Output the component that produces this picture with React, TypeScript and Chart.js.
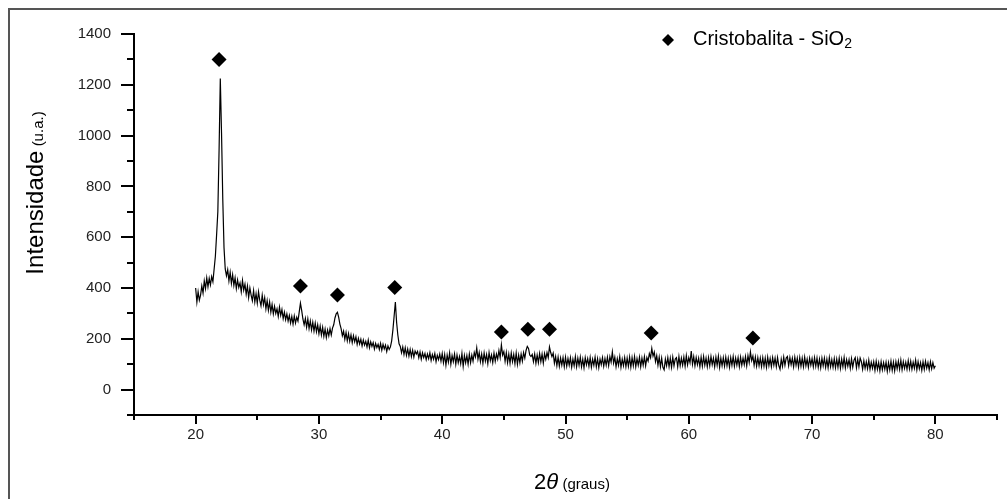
import React, { useEffect, useRef } from 'react';
import { Chart, registerables } from 'chart.js';

Chart.register(...registerables);

const FONT = '"Liberation Sans", Arial, Helvetica, sans-serif';

// 2θ sampling grid: 20.0° .. 80.0° every 0.1°
const thetaStart = 20;
const thetaStep = 0.1;

// Intensity (u.a.), one row per degree (x.0 .. x.9)
const intensity20s = [
  400, 345, 385, 352, 372, 408, 380, 428, 398, 440,
  405, 438, 412, 445, 425, 475, 525, 610, 700, 940,
  1225, 1010, 750, 560, 475, 448, 472, 428, 462, 418,
  452, 410, 440, 398, 432, 402, 420, 385, 430, 392,
  415, 375, 408, 362, 400, 372, 350, 390, 345, 378,
  340, 385, 352, 330, 372, 335, 362, 318, 350, 312,
  345, 305, 335, 298, 328, 300, 318, 288, 325, 292,
  315, 280, 305, 275, 298, 270, 292, 262, 288, 258,
  290, 262, 285, 270, 305, 340, 312, 278, 255, 280,
  245, 278, 240, 270, 235, 265, 230, 262, 228, 255,
];
const intensity30s = [
  220, 250, 215, 245, 210, 238, 205, 235, 212, 240,
  215, 242, 255, 282, 298, 304, 285, 258, 240, 212,
  230, 198, 225, 192, 220, 190, 215, 185, 212, 188,
  208, 178, 202, 180, 198, 172, 195, 175, 190, 168,
  195, 165, 188, 170, 185, 160, 182, 165, 178, 158,
  182, 155, 178, 160, 175, 150, 172, 158, 168, 192,
  235, 290, 345, 265, 215, 180, 170, 145, 168, 138,
  165, 135, 160, 132, 158, 130, 155, 128, 152, 140,
  150, 125, 148, 120, 145, 126, 142, 118, 140, 122,
  145, 115, 138, 120, 142, 110, 135, 118, 140, 112,
];
const intensity40s = [
  142, 106, 138, 96, 136, 108, 144, 100, 134, 110,
  140, 100, 136, 106, 130, 102, 142, 92, 134, 106,
  134, 100, 140, 106, 136, 112, 146, 128, 164, 120,
  146, 110, 140, 104, 144, 112, 138, 102, 146, 114,
  136, 106, 144, 112, 140, 120, 154, 126, 176, 136,
  150, 112, 146, 106, 140, 104, 144, 110, 138, 102,
  144, 100, 136, 106, 140, 112, 146, 124, 154, 170,
  162, 136, 130, 138, 110, 140, 104, 136, 106, 142,
  110, 140, 104, 142, 120, 146, 126, 168, 146, 130,
  144, 104, 130, 94, 128, 92, 124, 96, 126, 90,
];
const intensity50s = [
  128, 92, 122, 96, 126, 88, 120, 94, 130, 90,
  124, 95, 128, 90, 120, 86, 126, 98, 122, 92,
  126, 88, 120, 96, 128, 90, 122, 86, 120, 98,
  126, 92, 122, 96, 128, 94, 130, 108, 148, 104,
  128, 90, 122, 96, 130, 88, 120, 94, 126, 90,
  124, 92, 128, 88, 126, 94, 130, 90, 122, 96,
  128, 90, 124, 96, 130, 94, 126, 112, 142, 126,
  162, 132, 148, 110, 134, 96, 128, 90, 124, 88,
  78, 120, 94, 126, 90, 124, 88, 128, 94, 120,
  126, 90, 130, 94, 124, 96, 128, 92, 134, 98,
];
const intensity60s = [
  126, 106, 152, 100, 130, 94, 126, 98, 124, 90,
  128, 92, 130, 96, 124, 90, 126, 94, 130, 98,
  124, 90, 128, 96, 132, 88, 124, 94, 126, 92,
  128, 94, 124, 88, 126, 96, 130, 92, 124, 96,
  126, 90, 128, 96, 124, 98, 130, 94, 134, 106,
  148, 114, 132, 96, 128, 92, 126, 94, 124, 90,
  126, 92, 124, 88, 128, 94, 122, 90, 126, 96,
  124, 90, 126, 94, 80, 120, 92, 128, 96, 124,
  130, 94, 126, 98, 124, 90, 128, 96, 124, 88,
  126, 92, 124, 90, 128, 94, 120, 88, 124, 96,
];
const intensity70s = [
  122, 90, 126, 92, 124, 88, 120, 86, 124, 94,
  124, 88, 120, 86, 126, 90, 118, 88, 122, 86,
  120, 88, 124, 84, 120, 90, 126, 86, 118, 92,
  118, 84, 122, 88, 116, 126, 86, 120, 90, 124,
  110, 80, 114, 84, 110, 82, 116, 80, 108, 84,
  110, 76, 112, 80, 106, 74, 110, 78, 106, 80,
  108, 72, 106, 78, 112, 76, 108, 74, 110, 82,
  112, 80, 116, 78, 110, 84, 108, 80, 114, 82,
  112, 80, 108, 84, 116, 78, 110, 82, 106, 76,
  110, 80, 112, 84, 106, 78, 110, 82, 106, 84,
  94,
];

// Cristobalita peak markers (diamonds)
const peakTheta = [21.9, 28.5, 31.5, 36.15, 44.8, 46.95, 48.7, 56.95, 65.2];
const peakMarkerY = [1300, 408, 372, 402, 227, 238, 238, 223, 203];

// Axes
const xMin = 15;
const xMax = 85;
const xStep = 5;
const xTickLabels = [20, 30, 40, 50, 60, 70, 80];
const yMin = -100;
const yMax = 1400;
const yStep = 100;
const yTickLabels = [0, 200, 400, 600, 800, 1000, 1200, 1400];

const legendText = 'Cristobalita - SiO';
const legendSub = '2';
const xTitleMain = '2';
const xTitleSymbol = 'θ';
const xTitleUnit = '(graus)';
const yTitleMain = 'Intensidade';
const yTitleUnit = '(u.a.)';

const decorPlugin = {
  id: 'decor',
  afterDraw(chart: any) {
    const { ctx, scales } = chart;
    const xs = scales.x;
    const ys = scales.y;
    ctx.save();
    ctx.fillStyle = '#000';
    const yTop = Math.round(ys.getPixelForValue(yMax));
    const yBot = Math.round(ys.getPixelForValue(yMin));
    const xL = Math.round(xs.getPixelForValue(xMin));
    const xR = Math.round(xs.getPixelForValue(xMax));
    // axis lines
    ctx.fillRect(xL - 1, yTop - 1, 2, yBot - yTop + 2);
    ctx.fillRect(xL - 1, yBot - 1, xR - xL + 2, 2);
    // y ticks
    ys.ticks.forEach((t: any) => {
      const p = Math.round(ys.getPixelForValue(t.value));
      const len = yTickLabels.includes(t.value) ? 12 : 6;
      ctx.fillRect(xL - 1 - len, p - 1, len, 2);
    });
    // x ticks
    xs.ticks.forEach((t: any) => {
      const p = Math.round(xs.getPixelForValue(t.value));
      const len = xTickLabels.includes(t.value) ? 8 : 4;
      ctx.fillRect(p - 1, yBot + 1, 2, len);
    });

    // y title (rotated)
    ctx.fillStyle = '#000';
    ctx.textBaseline = 'alphabetic';
    ctx.font = `24px ${FONT}`;
    const wMain = ctx.measureText(yTitleMain).width;
    ctx.font = `15px ${FONT}`;
    const wSpace = ctx.measureText(' ').width;
    const wUnit = ctx.measureText(yTitleUnit).width;
    const wTot = wMain + wSpace + wUnit;
    ctx.save();
    ctx.translate(33, 183);
    ctx.rotate(-Math.PI / 2);
    ctx.textAlign = 'left';
    ctx.font = `24px ${FONT}`;
    ctx.fillText(yTitleMain, -wTot / 2, 0);
    ctx.font = `15px ${FONT}`;
    ctx.fillText(yTitleUnit, -wTot / 2 + wMain + wSpace, 0);
    ctx.restore();

    // x title
    ctx.textAlign = 'left';
    ctx.font = `22px ${FONT}`;
    const w2 = ctx.measureText(xTitleMain).width;
    ctx.font = `italic 22px ${FONT}`;
    const wTh = ctx.measureText(xTitleSymbol).width;
    ctx.font = `15px ${FONT}`;
    const wSp = ctx.measureText(' ').width;
    const wGr = ctx.measureText(xTitleUnit).width;
    const totX = w2 + wTh + wSp + wGr;
    let x0 = 562 - totX / 2;
    const base = 479;
    ctx.font = `22px ${FONT}`;
    ctx.fillText(xTitleMain, x0, base);
    x0 += w2;
    ctx.font = `italic 22px ${FONT}`;
    ctx.fillText(xTitleSymbol, x0, base);
    x0 += wTh + wSp;
    ctx.font = `15px ${FONT}`;
    ctx.fillText(xTitleUnit, x0, base);

    // legend
    const lx = 658;
    const ly = 30;
    const r = 6;
    ctx.beginPath();
    ctx.moveTo(lx, ly - r);
    ctx.lineTo(lx + r, ly);
    ctx.lineTo(lx, ly + r);
    ctx.lineTo(lx - r, ly);
    ctx.closePath();
    ctx.fill();
    ctx.font = `20px ${FONT}`;
    ctx.textBaseline = 'middle';
    ctx.fillText(legendText, 683, 29);
    const wl = ctx.measureText(legendText).width;
    ctx.font = `14px ${FONT}`;
    ctx.fillText(legendSub, 683 + wl, 34);
    ctx.restore();
  },
};

export default function App() {
  const canvasRef = useRef<HTMLCanvasElement | null>(null);

  useEffect(() => {
    const canvas = canvasRef.current;
    if (!canvas) return;
    const allIntensity = [
      ...intensity20s,
      ...intensity30s,
      ...intensity40s,
      ...intensity50s,
      ...intensity60s,
      ...intensity70s,
    ];
    const pattern = allIntensity.map((v, i) => ({
      x: Math.round((thetaStart + i * thetaStep) * 100) / 100,
      y: v,
    }));
    const peaks = peakTheta.map((t, i) => ({ x: t, y: peakMarkerY[i] }));

    const chart = new Chart(canvas, {
      type: 'line',
      data: {
        datasets: [
          {
            data: pattern,
            borderColor: '#000',
            borderWidth: 1.2,
            pointRadius: 0,
            fill: false,
            tension: 0,
          },
          {
            data: peaks,
            showLine: false,
            pointStyle: 'rectRot',
            pointRadius: 7.5,
            pointBorderWidth: 0,
            pointBackgroundColor: '#000',
            pointBorderColor: '#000',
            backgroundColor: '#000',
            borderColor: '#000',
          },
        ],
      },
      options: {
        responsive: false,
        animation: false,
        devicePixelRatio: 1,
        layout: { autoPadding: false, padding: { left: 0, right: 10, top: 24, bottom: 0 } },
        plugins: {
          legend: { display: false },
          tooltip: { enabled: false },
        },
        scales: {
          x: {
            type: 'linear',
            min: xMin,
            max: xMax,
            grid: { display: false, drawTicks: false },
            border: { display: false },
            ticks: {
              stepSize: xStep,
              autoSkip: false,
              maxRotation: 0,
              padding: 11,
              color: '#222',
              font: { family: FONT, size: 15 },
              callback: (v: any) => (xTickLabels.includes(Number(v)) ? String(v) : ''),
            },
            afterFit: (s: any) => {
              s.height = 84;
              s.paddingLeft = 0;
              s.paddingRight = 0;
            },
          },
          y: {
            type: 'linear',
            min: yMin,
            max: yMax,
            grid: { display: false, drawTicks: false },
            border: { display: false },
            ticks: {
              stepSize: yStep,
              autoSkip: false,
              padding: 23,
              color: '#222',
              font: { family: FONT, size: 15 },
              callback: (v: any) => (yTickLabels.includes(Number(v)) ? String(v) : ''),
            },
            afterFit: (s: any) => {
              s.width = 124;
              s.paddingTop = 0;
              s.paddingBottom = 0;
            },
          },
        },
      },
      plugins: [decorPlugin],
    } as any);
    return () => chart.destroy();
  }, []);

  return (
    <div
      style={{
        position: 'fixed',
        left: 8,
        top: 8,
        width: 999,
        height: 491,
        boxSizing: 'border-box',
        borderTop: '2px solid #555',
        borderLeft: '2px solid #555',
        background: '#fff',
      }}
    >
      <canvas
        ref={canvasRef}
        width={997}
        height={489}
        style={{ position: 'absolute', left: 0, top: 0, width: 997, height: 489 }}
      />
    </div>
  );
}
